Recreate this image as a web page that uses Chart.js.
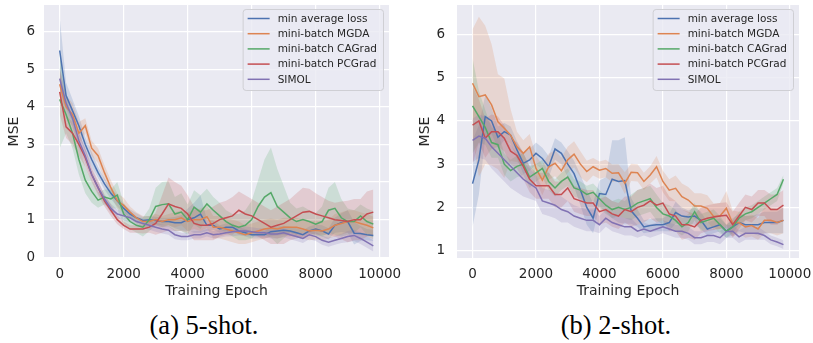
<!DOCTYPE html>
<html lang="en">
<head>
<meta charset="UTF-8">
<title>MSE vs training epoch</title>
<script src="https://cdn.jsdelivr.net/npm/chart.js"></script>
<style>
  body { margin: 0; background: #fff; }
  #wrap { position: relative; width: 813px; height: 343px; }
  canvas { position: absolute; top: 0; }
  .cap { position: absolute; top: 310px; font-family: "Liberation Serif", serif; font-size: 26.5px; color: #000; transform: translateX(-50%); white-space: nowrap; }
</style>
</head>
<body>
<div id="wrap">
  <canvas id="chart5" width="405" height="300" style="left:0"></canvas>
  <canvas id="chart2" width="408" height="300" style="left:405px"></canvas>
  <div class="cap" style="left:204px">(a) 5-shot.</div>
  <div class="cap" style="left:616px">(b) 2-shot.</div>
</div>
<script>
// x positions (training epoch) of every point
const epochs = [0,200,400,600,800,1000,1200,1400,1600,1800,2000,2200,2400,2600,2800,3000,3200,3400,3600,3800,
  4000,4200,4400,4600,4800,5000,5200,5400,5600,5800,6000,6200,6400,6600,6800,7000,7200,7400,7600,7800,
  8000,8200,8400,8600,8800,9000,9200,9400,9600,9800];
const seriesNames = ['min average loss', 'mini-batch MGDA', 'mini-batch CAGrad', 'mini-batch PCGrad', 'SIMOL'];
const xTicks = [0, 2000, 4000, 6000, 8000, 10000];
const yTicks5 = [0, 1, 2, 3, 4, 5, 6];
const yTicks2 = [1, 2, 3, 4, 5, 6];

// (a) 5-shot: mean MSE
const fiveMinAvg = [5.5,4.3,3.9,3.5,3.0,2.6,2.25,1.95,1.7,1.5,1.3,1.15,1.05,0.98,1.0,0.98,0.95,0.95,0.92,0.92,
  1.0,1.05,1.15,0.85,0.85,0.75,0.8,0.8,0.7,0.65,0.6,0.6,0.6,0.68,0.7,0.72,0.7,0.65,0.6,0.7,
  0.75,0.7,0.62,0.85,0.92,0.95,0.64,0.63,0.6,0.58];
const fiveMGDA = [4.6,4.0,3.8,3.3,3.5,2.9,2.7,2.25,1.85,1.5,1.38,1.2,1.05,0.95,0.95,1.0,0.95,1.0,1.0,1.05,
  0.95,1.0,1.0,1.08,0.8,0.8,0.75,0.7,0.65,0.6,0.65,0.7,0.75,0.78,0.75,0.8,0.8,0.8,0.75,0.7,
  0.72,0.7,0.75,0.85,0.9,0.95,0.95,0.9,0.85,0.78];
const fiveCAGrad = [4.2,3.8,3.3,2.6,2.05,1.75,1.52,1.6,1.55,1.65,1.15,0.95,0.85,0.8,1.0,1.35,1.4,1.42,1.15,1.2,
  1.0,1.33,1.2,1.42,1.25,1.1,0.95,0.85,0.8,0.85,1.0,1.35,1.6,1.72,1.35,1.2,1.05,0.95,1.0,0.95,
  0.88,0.95,1.25,1.3,1.05,0.95,0.95,1.1,0.95,0.88];
const fivePCGrad = [4.4,3.47,3.3,3.0,2.65,2.2,1.85,1.5,1.25,1.0,0.85,0.75,0.75,0.75,0.8,0.9,1.15,1.42,1.35,1.3,
  1.15,0.9,0.85,0.85,0.9,1.0,1.05,1.1,1.25,1.15,1.1,1.0,0.9,0.8,0.85,0.9,1.0,1.1,1.2,1.22,
  1.15,1.1,1.05,1.0,0.98,0.95,1.0,1.0,1.15,1.2];
const fiveSIMOL = [4.75,4.1,3.7,3.1,2.7,2.2,1.85,1.55,1.3,1.15,1.1,1.05,0.95,0.9,0.85,0.8,0.75,0.72,0.6,0.55,
  0.55,0.6,0.6,0.65,0.6,0.62,0.65,0.68,0.7,0.7,0.68,0.65,0.65,0.62,0.62,0.65,0.6,0.55,0.5,0.6,
  0.55,0.45,0.4,0.45,0.5,0.55,0.58,0.5,0.4,0.3];
// (a) 5-shot: half-width of the shaded band
const fiveMinAvgCI = [0.9,0.35,0.3,0.25,0.2,0.2,0.15,0.15,0.15,0.15,0.12,0.12,0.12,0.1,0.1,0.1,0.1,0.1,0.15,0.2,
  0.3,0.4,0.5,0.15,0.12,0.1,0.1,0.1,0.1,0.1,0.1,0.1,0.1,0.12,0.12,0.12,0.12,0.12,0.12,0.12,
  0.12,0.15,0.15,0.2,0.25,0.3,0.3,0.2,0.15,0.15];
const fiveMGDACI = [0.4,0.3,0.3,0.3,0.2,0.2,0.2,0.2,0.2,0.2,0.2,0.15,0.15,0.15,0.15,0.15,0.15,0.15,0.2,0.2,
  0.25,0.25,0.3,0.3,0.3,0.3,0.3,0.3,0.3,0.25,0.25,0.25,0.25,0.25,0.25,0.25,0.25,0.25,0.25,0.25,
  0.25,0.25,0.25,0.3,0.3,0.3,0.3,0.3,0.3,0.3];
const fiveCAGradCI = [1.3,0.5,0.4,0.4,0.35,0.3,0.2,0.2,0.25,0.35,0.3,0.2,0.2,0.25,0.3,0.5,0.6,0.6,0.45,0.5,
  0.4,0.45,0.45,0.4,0.35,0.35,0.3,0.3,0.35,0.4,0.5,0.7,1.0,1.2,1.0,0.7,0.4,0.35,0.35,0.3,
  0.3,0.4,0.6,0.7,0.5,0.35,0.3,0.3,0.35,0.35];
const fivePCGradCI = [0.6,0.3,0.3,0.3,0.25,0.2,0.2,0.15,0.15,0.12,0.1,0.1,0.1,0.12,0.15,0.3,0.5,0.7,0.65,0.6,
  0.5,0.45,0.4,0.4,0.45,0.45,0.45,0.5,0.5,0.5,0.45,0.45,0.45,0.45,0.5,0.55,0.55,0.6,0.65,0.6,
  0.55,0.5,0.45,0.45,0.5,0.55,0.55,0.55,0.6,0.6];
const fiveSIMOLCI = [0.3,0.25,0.25,0.2,0.2,0.15,0.15,0.12,0.12,0.12,0.12,0.12,0.12,0.12,0.12,0.12,0.12,0.12,0.12,0.1,
  0.1,0.1,0.1,0.1,0.1,0.1,0.1,0.12,0.12,0.12,0.12,0.12,0.12,0.12,0.12,0.12,0.12,0.12,0.12,0.12,
  0.12,0.12,0.12,0.12,0.12,0.15,0.15,0.15,0.15,0.15];

// (b) 2-shot: mean MSE
const twoMinAvg = [2.55,3.1,4.1,4.0,3.62,3.75,3.67,3.33,3.02,3.1,3.25,3.13,2.94,3.35,3.25,3.0,2.78,2.4,2.0,1.75,
  2.32,2.3,2.65,2.6,2.62,1.92,1.75,1.55,1.58,1.6,1.6,1.65,1.88,1.8,1.78,1.8,1.7,1.5,1.55,1.6,
  1.45,1.55,1.65,1.6,1.6,1.6,1.65,1.65,1.65,1.7];
const twoMGDA = [4.87,4.56,4.6,4.37,3.98,3.83,3.67,3.4,3.25,3.4,2.9,2.63,2.94,3.02,2.85,3.1,3.23,3.0,2.83,2.94,
  2.86,2.9,2.79,2.8,2.56,2.81,2.8,2.6,2.75,2.94,2.6,2.4,2.44,2.25,2.17,2.03,2.03,1.98,1.79,1.8,
  1.98,1.63,1.65,1.55,1.58,1.5,1.7,1.7,1.65,1.7];
const twoCAGrad = [4.35,4.1,3.85,3.5,3.45,3.0,2.85,2.95,3.0,2.7,2.8,2.9,2.6,2.45,2.6,2.7,2.45,2.4,2.3,2.35,
  2.2,2.05,1.95,2.0,1.95,2.0,2.1,2.15,2.2,2.0,1.85,1.8,1.7,1.55,1.65,1.9,1.65,1.7,1.75,1.6,
  1.45,1.55,1.75,1.85,1.9,2.0,2.1,2.2,2.3,2.65];
const twoPCGrad = [3.9,4.0,3.6,3.75,3.75,3.6,3.3,3.2,2.95,2.65,2.5,2.5,2.5,2.3,2.3,2.45,2.2,2.15,2.1,2.1,
  1.9,1.95,1.85,1.8,1.95,1.9,2.0,2.05,2.15,2.05,2.1,1.85,1.8,1.6,1.6,1.55,1.7,1.75,1.78,1.8,
  1.82,1.6,1.8,2.0,1.95,2.1,2.1,1.95,1.95,2.05];
const twoSIMOL = [3.55,3.65,3.6,3.4,3.25,3.1,2.95,2.8,2.65,2.55,2.45,2.15,2.1,2.05,1.95,1.9,1.8,1.75,1.7,1.7,
  1.6,1.75,1.65,1.6,1.55,1.55,1.45,1.5,1.45,1.5,1.55,1.5,1.45,1.45,1.4,1.3,1.3,1.35,1.35,1.3,
  1.44,1.45,1.32,1.4,1.4,1.4,1.35,1.25,1.2,1.14];
// (b) 2-shot: half-width of the shaded band
const twoMinAvgCI = [1.0,0.8,0.5,0.3,0.25,0.2,0.2,0.2,0.25,0.25,0.25,0.25,0.25,0.25,0.25,0.3,0.3,0.35,0.4,0.35,
  0.3,0.4,0.9,0.95,1.0,0.3,0.2,0.15,0.15,0.15,0.15,0.2,0.25,0.2,0.15,0.2,0.2,0.15,0.15,0.15,
  0.15,0.2,0.2,0.2,0.2,0.25,0.25,0.25,0.25,0.3];
const twoMGDACI = [1.25,1.85,1.6,1.4,1.1,1.15,0.6,0.35,0.3,0.3,0.3,0.35,0.3,0.3,0.3,0.3,0.3,0.3,0.25,0.2,
  0.2,0.2,0.2,0.2,0.25,0.2,0.2,0.2,0.2,0.25,0.25,0.25,0.3,0.3,0.3,0.3,0.3,0.3,0.3,0.3,
  0.4,0.3,0.25,0.25,0.25,0.25,0.3,0.3,0.3,0.3];
const twoCAGradCI = [1.1,0.6,0.4,0.35,0.3,0.25,0.25,0.25,0.25,0.25,0.2,0.2,0.2,0.2,0.2,0.2,0.2,0.2,0.2,0.2,
  0.2,0.2,0.2,0.2,0.2,0.3,0.3,0.3,0.3,0.3,0.25,0.25,0.25,0.2,0.2,0.2,0.2,0.2,0.2,0.2,
  0.15,0.15,0.15,0.15,0.15,0.15,0.15,0.15,0.15,0.1];
const twoPCGradCI = [0.9,0.5,0.45,0.4,0.35,0.3,0.3,0.3,0.3,0.3,0.3,0.3,0.3,0.3,0.3,0.3,0.3,0.3,0.3,0.3,
  0.3,0.3,0.3,0.3,0.3,0.35,0.4,0.4,0.4,0.4,0.4,0.4,0.35,0.35,0.3,0.3,0.3,0.3,0.3,0.3,
  0.3,0.3,0.3,0.3,0.3,0.3,0.3,0.35,0.35,0.35];
const twoSIMOLCI = [0.5,0.5,0.5,0.5,0.5,0.5,0.5,0.45,0.4,0.35,0.3,0.3,0.3,0.3,0.3,0.25,0.25,0.25,0.25,0.25,
  0.2,0.2,0.2,0.2,0.2,0.2,0.15,0.15,0.15,0.15,0.15,0.15,0.15,0.15,0.15,0.15,0.15,0.15,0.15,0.15,
  0.15,0.15,0.15,0.15,0.15,0.15,0.1,0.1,0.1,0.1];

// seaborn "deep" palette
const colors = ['#4c72b0', '#dd8452', '#55a868', '#c44e52', '#8172b3'];
const textColor = '#262626';
const font = '"DejaVu Sans", sans-serif';

function alpha(hex, a) {
  const n = parseInt(hex.slice(1), 16);
  return `rgba(${n >> 16},${(n >> 8) & 255},${n & 255},${a})`;
}

function pts(values) {
  return epochs.map((x, i) => ({ x: x, y: values[i] }));
}

// legend drawn inside the plot, upper right (like matplotlib)
const boxLegend = {
  id: 'boxLegend',
  afterDraw(chart) {
    const ctx = chart.ctx, area = chart.chartArea;
    ctx.save();
    ctx.font = '10.5px ' + font;
    const tw = Math.max(...seriesNames.map(n => ctx.measureText(n).width));
    const w = 5 + 22 + 8 + tw + 6, h = 81;
    const x0 = area.right - 6 - w, y0 = area.top + 4;
    ctx.beginPath();
    ctx.roundRect(x0 + 0.5, y0 + 0.5, w, h, 3);
    ctx.fillStyle = 'rgba(234,234,242,0.8)';
    ctx.fill();
    ctx.strokeStyle = '#cfcfd4';
    ctx.lineWidth = 1;
    ctx.stroke();
    ctx.textBaseline = 'middle';
    seriesNames.forEach((name, i) => {
      const y = y0 + 9.5 + i * 15.2;
      ctx.beginPath();
      ctx.moveTo(x0 + 5, y);
      ctx.lineTo(x0 + 27, y);
      ctx.strokeStyle = colors[i];
      ctx.lineWidth = 1.5;
      ctx.stroke();
      ctx.fillStyle = textColor;
      ctx.fillText(name, x0 + 35, y + 0.5);
    });
    ctx.restore();
  }
};

// plot background
const plotBg = {
  id: 'plotBg',
  beforeDraw(chart) {
    const { ctx, chartArea: a } = chart;
    ctx.save();
    ctx.fillStyle = '#eaeaf2';
    ctx.fillRect(a.left, a.top, a.right - a.left, a.bottom - a.top);
    ctx.restore();
  }
};

function noPad(s) {
  s.paddingTop = 0; s.paddingBottom = 0; s.paddingLeft = 0; s.paddingRight = 0;
}

function makeChart(id, means, cis, yMin, yMax, yTicks, geo) {
  const lines = [], bands = [];
  // last series drawn on top: Chart.js paints dataset 0 last
  for (let k = means.length - 1; k >= 0; k--) {
    lines.push({
      data: pts(means[k]), borderColor: colors[k], borderWidth: 1.5,
      pointRadius: 0, fill: false, tension: 0
    });
  }
  for (let k = means.length - 1; k >= 0; k--) {
    bands.push({
      data: pts(means[k].map((v, i) => v - cis[k][i])),
      borderWidth: 0, borderColor: 'transparent', pointRadius: 0, fill: false
    });
    bands.push({
      data: pts(means[k].map((v, i) => v + cis[k][i])),
      borderWidth: 0, borderColor: 'transparent', pointRadius: 0,
      fill: '-1', backgroundColor: alpha(colors[k], 0.2)
    });
  }
  return new Chart(document.getElementById(id), {
    type: 'line',
    data: { datasets: lines.concat(bands) },
    options: {
      responsive: false,
      animation: false,
      devicePixelRatio: 1,
      layout: { padding: { top: 5, right: geo.right, bottom: 0, left: 0 } },
      plugins: { legend: { display: false }, tooltip: { enabled: false } },
      scales: {
        x: {
          type: 'linear', min: -490, max: 10290,
          afterBuildTicks: s => { s.ticks = xTicks.map(v => ({ value: v })); },
          afterFit: s => { s.height = 42; noPad(s); },
          border: { display: false },
          grid: { color: '#ffffff', lineWidth: 1.2, drawTicks: false },
          ticks: { color: textColor, font: { family: font, size: 13.5 }, padding: 8, maxRotation: 0,
                   callback: v => String(v) },
          title: { display: true, text: 'Training Epoch', color: textColor,
                   font: { family: font, size: 14 }, padding: { top: 0, bottom: 0 } }
        },
        y: {
          type: 'linear', min: yMin, max: yMax,
          afterBuildTicks: s => { s.ticks = yTicks.map(v => ({ value: v })); },
          afterFit: s => { s.width = geo.yWidth; noPad(s); },
          border: { display: false },
          grid: { color: '#ffffff', lineWidth: 1.2, drawTicks: false },
          ticks: { color: textColor, font: { family: font, size: 13.5 }, padding: geo.tickPad,
                   callback: v => String(v) },
          title: { display: true, text: 'MSE', color: textColor,
                   font: { family: font, size: 14 }, padding: { top: geo.titlePad, bottom: 0 } }
        }
      }
    },
    plugins: [plotBg, boxLegend]
  });
}

makeChart('chart5',
  [fiveMinAvg, fiveMGDA, fiveCAGrad, fivePCGrad, fiveSIMOL],
  [fiveMinAvgCI, fiveMGDACI, fiveCAGradCI, fivePCGradCI, fiveSIMOLCI],
  -0.02, 6.71, yTicks5, { right: 16, yWidth: 44, tickPad: 9, titlePad: 5.5 });

makeChart('chart2',
  [twoMinAvg, twoMGDA, twoCAGrad, twoPCGrad, twoSIMOL],
  [twoMinAvgCI, twoMGDACI, twoCAGradCI, twoPCGradCI, twoSIMOLCI],
  0.83, 6.68, yTicks2, { right: 14, yWidth: 52, tickPad: 12, titlePad: 12 });
</script>
</body>
</html>
